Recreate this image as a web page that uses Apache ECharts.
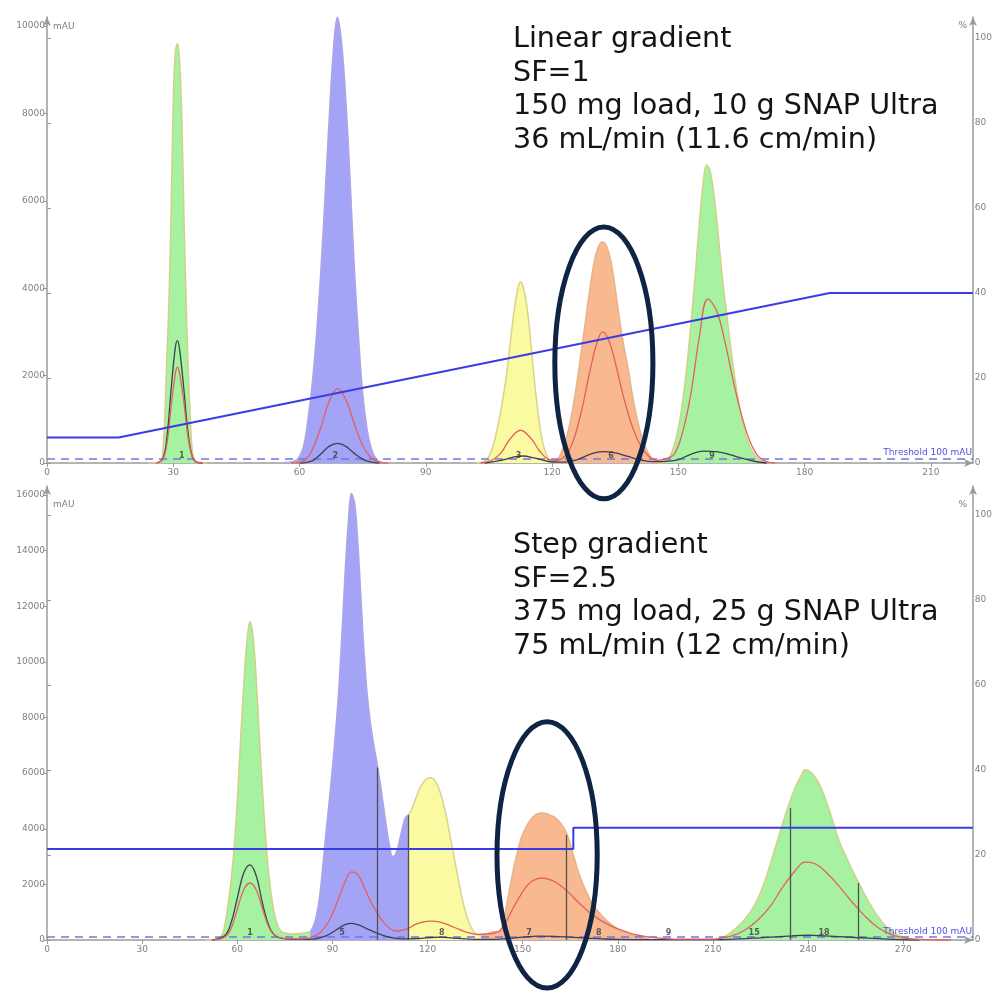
<!DOCTYPE html>
<html><head><meta charset="utf-8">
<script src="https://cdn.jsdelivr.net/npm/echarts/dist/echarts.min.js"></script>
<style>html,body{margin:0;padding:0;background:#fff}#c{width:995px;height:994px}</style>
</head><body><div id="c"></div>
<script>
// ---------- DATA ----------
const topXTicks = [0, 30, 60, 90, 120, 150, 180, 210];
const botXTicks = [0, 30, 60, 90, 120, 150, 180, 210, 240, 270];
const threshold = 100;

// Top chart (linear gradient) UV trace, split by fraction colour
const topGreen1 = [[24,0],[27,30],[27.5,250],[28,1100],[28.5,2500],[29,3800],[29.5,5800],[30,8300],[30.5,9400],[31,9600],[31.5,9200],[32,8000],[32.5,5800],[33,3900],[33.5,2300],[34,1100],[34.5,300],[35,80],[36,10],[38,0]];
const topBlue = [[56,0],[59,50],[60,150],[61,400],[62,1000],[63,1800],[64,2900],[65,4300],[66,6000],[67,7800],[68,9400],[69,10200],[70,9600],[71,8300],[72,6500],[73,4500],[74,2900],[75,1600],[76,800],[77,350],[78,120],[79,30],[81,0]];
const topYellow = [[102,0],[104,40],[105,150],[106,400],[107,800],[108,1300],[109,1900],[110,2700],[111,3500],[112,4050],[112.5,4140],[113,4080],[114,3600],[115,2700],[116,1700],[117,900],[118,380],[119,120],[120,30],[122,0]];
const topOrange = [[119,0],[121,60],[122,200],[123,450],[124,800],[125,1300],[126,1900],[127,2600],[128,3300],[129,4000],[130,4600],[131,4950],[132,5060],[133,4950],[134,4600],[135,4000],[136,3300],[137,2700],[138,2200],[139,1600],[140,1100],[141,700],[142,400],[143,200],[144,80],[145,20],[147,0]];
const topGreen2 = [[145,0],[147,30],[148,150],[149,400],[150,800],[151,1400],[152,2200],[153,3200],[154,4300],[155,5500],[156,6500],[156.7,6820],[157.5,6700],[158.5,6100],[159.5,5200],[160.5,4200],[161.5,3400],[162.5,2600],[163.5,1900],[164.5,1300],[165.5,850],[166.5,500],[167.5,280],[168.5,140],[169.5,60],[171,10],[173,0]];
const topRed = [
  [[26,0],[27.5,80],[28.5,450],[29.5,1300],[30.5,2050],[31,2200],[31.5,2050],[32.5,1400],[33.5,600],[34.5,150],[35.5,20],[37,0]],
  [[58,0],[61,50],[63,300],[65,800],[67,1400],[69,1700],[71,1450],[73,900],[75,400],[77,120],[79,20],[81,0]],
  [[103,0],[106,80],[108,250],[110,550],[112.5,750],[115,560],[117,280],[119,90],[121,60],
   [123,150],[125,500],[127,1200],[129,2100],[130.5,2700],[132,3000],[133.5,2800],[135,2300],[137,1500],[139,850],[141,400],[143,150],[145,60],
   [147,100],[149,200],[151,700],[153,1600],[155,2900],[157,3750],[159,3500],[161,2800],[163,1900],[165,1100],[167,500],[169,150],[171,30],[173,0]]
];
const topDark = [
  [[26,0],[27.5,100],[28.5,600],[29.5,1700],[30.5,2650],[31,2800],[31.5,2600],[32.5,1700],[33.5,700],[34.5,150],[35.5,20],[37,0]],
  [[60,0],[63,50],[65,200],[67,380],[69,450],[71,380],[73,220],[75,90],[77,20],[79,0]],
  [[104,0],[108,60],[111,140],[113,160],[116,110],[119,40],[122,20],
   [126,80],[129,200],[132,260],[135,230],[138,150],[141,70],[144,30],
   [147,40],[150,80],[153,200],[156,270],[159,260],[162,200],[165,110],[168,40],[171,0]]
];
const topGradient = [[0,6],[17,6],[186,40],[220,40]];
const topFractions = [[32,'1'],[68.5,'2'],[112,'3'],[134,'6'],[158,'9']];

// Bottom chart (step gradient)
const botGreen1 = [[50,0],[53,20],[55,150],[56,500],[57,1200],[58,2100],[59,3300],[60,5000],[61,7100],[62,9100],[63,10700],[64,11440],[65,10900],[66,9300],[67,7300],[68,5300],[69,3600],[70,2300],[71,1400],[72,800],[73,450],[74,300],[75,250],[77,220],[79,230],[81,250],[83,300]];
const botBlue = [[83,300],[84,500],[85,900],[86,1600],[87,2700],[88,3900],[89,5000],[90,6200],[91,7500],[92,9000],[93,11000],[94,13200],[95,15000],[96,16050],[97,15700],[98,14300],[99,12300],[100,10300],[101,8800],[102,7800],[103,7050],[104,6400],[105,5700],[106,4900],[107,4100],[108,3400],[109,3000],[110,3100],[111,3500],[112,4000],[113,4400],[114,4500]];
const botYellow = [[114,4500],[115,4700],[116,5000],[117,5300],[118,5550],[119,5720],[120,5810],[121,5830],[122,5780],[123,5600],[124,5300],[125,4900],[126,4400],[127,3800],[128,3200],[129,2600],[130,2000],[131,1450],[132,1000],[133,650],[134,400],[135,250],[136,180],[137,150]];
const botOrange = [[137,150],[138,180],[139,230],[140,280],[141,300],[142,290],[143,350],[144,700],[145,1300],[146,1900],[147,2500],[148,3000],[149,3450],[150,3800],[152,4250],[154,4500],[156,4570],[158,4520],[160,4420],[162,4200],[164,3800],[166,3050],[168,2300],[170,1750],[172,1300],[174,1000],[176,750],[178,550],[180,400],[182,280],[184,190],[186,120],[188,70],[190,40]];
const botGreen2 = [[210,20],[212,60],[214,150],[216,300],[218,500],[220,750],[222,1050],[224,1450],[226,2000],[228,2700],[230,3450],[232,4200],[234,4900],[236,5500],[238,5950],[239,6120],[240,6100],[242,5900],[244,5500],[246,4900],[248,4200],[250,3500],[252,3000],[254,2500],[256,2050],[258,1600],[260,1200],[262,850],[264,560],[266,350],[268,200],[270,100],[272,40],[275,0]];
const botRed = [
  [[52,0],[56,100],[58,400],[60,1100],[62,1800],[64,2050],[66,1800],[68,1100],[70,450],[72,150],[75,50],[80,40],
   [83,80],[86,250],[89,700],[92,1500],[94,2100],[96,2450],[98,2350],[100,1900],[102,1400],[104,1000],[106,650],[108,420],[110,320],[112,350],[114,420],
   [116,550],[118,630],[121,680],[124,640],[127,520],[130,380],[133,260],[136,200],[139,220],
   [141,250],[143,350],[145,700],[147,1150],[149,1550],[151,1900],[153,2120],[156,2230],[159,2150],[162,1950],[165,1650],[168,1300],[171,1000],[174,750],[177,550],[180,400],[183,280],[186,180],[190,100],[195,50],[200,30],[210,30],
   [212,50],[216,150],[220,350],[224,700],[228,1200],[232,1900],[236,2500],[239,2800],[242,2750],[246,2400],[250,1900],[254,1350],[258,850],[262,450],[266,200],[270,80],[275,20],[285,0]]
];
const botDark = [
  [[52,0],[56,150],[58,600],[60,1500],[62,2400],[64,2700],[66,2300],[68,1300],[70,500],[72,150],[75,40],[80,20],
   [84,30],[88,150],[91,350],[94,550],[96,600],[98,550],[101,400],[104,250],[107,130],[110,60],[114,40],
   [118,60],[121,90],[124,100],[128,70],[132,40],[136,20],[140,20],
   [145,50],[150,100],[155,140],[160,130],[165,100],[170,70],[175,40],[180,20],[190,10],[210,10],
   [215,20],[225,80],[235,150],[240,170],[245,150],[255,90],[265,30],[275,0]]
];
const botGradient = [[0,21.4],[166,21.4],[166,26.4],[292,26.4]];
const botCuts = [[104.1,6200],[113.9,4500],[163.6,3780],[234.4,4750],[255.8,2050]];
const botFractions = [[64,'1'],[93,'5'],[124.5,'8'],[152,'7'],[174,'8'],[196,'9'],[223,'15'],[245,'18']];

const topText = ['Linear gradient', 'SF=1', '150 mg load, 10 g SNAP Ultra', '36 mL/min (11.6 cm/min)'];
const botText = ['Step gradient', 'SF=2.5', '375 mg load, 25 g SNAP Ultra', '75 mL/min (12 cm/min)'];
// annotation ellipses (data units): [cx, cy, rx, ry]
const topEllipse = [132.3, 2290, 11.65, 3110];
const botEllipse = [157.7, 3060, 15.8, 4790];

// ---------- STYLE ----------
const FILL = {green:'#a6f2a0', blue:'#a4a4f6', yellow:'#fafaa2', orange:'#f8b890'};
const EDGE = {green:'#d4d08a', blue:'#b0a4e4', yellow:'#dcd28c', orange:'#e6b488'};
const AX = '#9a9a9a';
const LBL = {color:'#808080', fontSize:9, fontFamily:'DejaVu Sans'};
const SMOOTH = 0.4;

const chart = echarts.init(document.getElementById('c'), null, {renderer:'canvas'});

function uv(data, key, xi, yi) {
  return {type:'line', xAxisIndex:xi, yAxisIndex:yi, data, smooth:SMOOTH,
    symbol:'none', clip:false, silent:true, z:2,
    lineStyle:{color:EDGE[key], width:1.5}, areaStyle:{color:FILL[key], opacity:1}};
}
function traces(segs, color, xi, yi) {
  return segs.map(data => ({type:'line', xAxisIndex:xi, yAxisIndex:yi, data, smooth:SMOOTH,
    symbol:'none', clip:false, silent:true, z:3, lineStyle:{color, width:1.3}}));
}
function fractionLabels(arr, xi, yi) {
  return {type:'scatter', xAxisIndex:xi, yAxisIndex:yi, symbolSize:0, z:5, silent:true,
    data: arr.map(d => [d[0], 0, d[1]]),
    label:{show:true, position:'top', distance:3, formatter:p => p.data[2], fontSize:8, fontWeight:'bold', color:'#3a3a3a', fontFamily:'DejaVu Sans'}};
}
function threshLine(xi, yi) {
  return {type:'line', xAxisIndex:xi, yAxisIndex:yi, data:[], silent:true,
    markLine:{symbol:'none', silent:true, z:3, lineStyle:{color:'#7474e6', type:[8,6], width:1.5},
      label:{position:'insideEndTop', formatter:'Threshold ' + threshold + ' mAU', color:'#5050e0', fontSize:9, fontFamily:'DejaVu Sans', distance:1},
      data:[{yAxis:threshold}]}};
}
function mainX(max, gi) {
  return {type:'value', gridIndex:gi, min:0, max, interval:30,
    axisLine:{show:false}, axisTick:{show:true, length:4, lineStyle:{color:AX}},
    axisLabel:Object.assign({margin:5, showMaxLabel:false, formatter:v => (v % 30 === 0 ? String(v) : '')}, LBL),
    splitLine:{show:false}};
}
function hiddenX(max, gi) {
  return {type:'value', gridIndex:gi, min:0, max, show:false};
}
function leftY(max, gi) {
  return {type:'value', gridIndex:gi, min:0, max, interval:2000, position:'left',
    axisLine:{show:false}, axisTick:{show:true, length:4, lineStyle:{color:AX}},
    axisLabel:Object.assign({margin:2, formatter:v => String(v)}, LBL), splitLine:{show:false}};
}
function rightY(gi) {
  return {type:'value', gridIndex:gi, min:0, max:100, interval:20, position:'right',
    axisLine:{show:false}, axisTick:{show:true, length:4, lineStyle:{color:AX}},
    axisLabel:Object.assign({margin:2, formatter:v => String(v)}, LBL), splitLine:{show:false}};
}
const frameLine = {show:true, symbol:['none','arrow'], symbolSize:[6,9], lineStyle:{color:AX, width:1.5}};
function frameX(gi) { return {type:'value', gridIndex:gi, min:0, max:1, axisLine:frameLine, axisTick:{show:false}, axisLabel:{show:false}, splitLine:{show:false}}; }
function frameY(gi, pos) { return {type:'value', gridIndex:gi, min:0, max:1, position:pos, axisLine:frameLine, axisTick:{show:false}, axisLabel:{show:false}, splitLine:{show:false}}; }

const option = {
  backgroundColor:'#fff',
  animation:false,
  grid:[
    {left:47, right:22, top:26, bottom:531},   // 0 top main (mAU)
    {left:47, right:22, top:38, bottom:531},   // 1 top %
    {left:47, right:22, top:495, bottom:54},   // 2 bottom main
    {left:47, right:22, top:515, bottom:54},   // 3 bottom %
    {left:47, right:22, top:17, bottom:531},   // 4 top frame
    {left:47, right:22, top:486, bottom:54}    // 5 bottom frame
  ],
  xAxis:[mainX(220,0), hiddenX(220,1), mainX(292,2), hiddenX(292,3), frameX(4), frameX(5)],
  yAxis:[leftY(10000,0), rightY(1), leftY(16000,2), rightY(3), frameY(4,'left'), frameY(4,'right'), frameY(5,'left'), frameY(5,'right')],
  series:[].concat(
    [uv(topGreen1,'green',0,0), uv(topBlue,'blue',0,0), uv(topYellow,'yellow',0,0), uv(topOrange,'orange',0,0), uv(topGreen2,'green',0,0)],
    traces(topDark,'#3b4150',0,0), traces(topRed,'#e4605e',0,0),
    [threshLine(0,0), fractionLabels(topFractions,0,0),
     {type:'line', xAxisIndex:1, yAxisIndex:1, data:topGradient, symbol:'none', silent:true, z:6, lineStyle:{color:'#3c3ce6', width:2}}],

    [uv(botGreen1,'green',2,2), uv(botBlue,'blue',2,2), uv(botYellow,'yellow',2,2), uv(botOrange,'orange',2,2), uv(botGreen2,'green',2,2)],
    traces(botDark,'#3b4150',2,2), traces(botRed,'#e4605e',2,2),
    [threshLine(2,2),
     {type:'line', xAxisIndex:2, yAxisIndex:2, data:[], silent:true,
      markLine:{symbol:'none', silent:true, z:4, lineStyle:{color:'#505050', type:'solid', width:1.3}, label:{show:false},
        data: botCuts.map(c => [{coord:[c[0],0]}, {coord:[c[0],c[1]]}])}},
     fractionLabels(botFractions,2,2),
     {type:'line', xAxisIndex:3, yAxisIndex:3, data:botGradient, symbol:'none', silent:true, z:6, lineStyle:{color:'#3c3ce6', width:2}}]
  )
};
chart.setOption(option);

// ---------- annotations ----------
function ell(e, xi, yi) {
  const c = chart.convertToPixel({xAxisIndex:xi, yAxisIndex:yi}, [e[0], e[1]]);
  const r = chart.convertToPixel({xAxisIndex:xi, yAxisIndex:yi}, [e[0] + e[2], e[1] + e[3]]);
  return {type:'ellipse', z:100, silent:true,
    shape:{cx:c[0], cy:c[1], rx:Math.abs(r[0]-c[0]), ry:Math.abs(c[1]-r[1])},
    style:{fill:'none', stroke:'#0f2345', lineWidth:5}};
}
function block(lines, x, y) {
  return {type:'text', z:90, silent:true, x, y,
    style:{text:lines.join('\n'), font:'28.6px "DejaVu Sans"', fill:'#141414', lineHeight:33.5, verticalAlign:'top', align:'left'}};
}
function small(txt, x, y, align) {
  return {type:'text', z:90, silent:true, x, y,
    style:{text:txt, font:'9px "DejaVu Sans"', fill:'#808080', verticalAlign:'middle', align:align||'left'}};
}
chart.setOption({graphic:[
  block(topText, 513, 23),
  block(botText, 513, 529),
  ell(topEllipse, 0, 0),
  ell(botEllipse, 2, 2),
  small('mAU', 53, 27), small('mAU', 53, 505),
  small('%', 967, 26, 'right'), small('%', 967, 505, 'right')
]});
</script></body></html>
